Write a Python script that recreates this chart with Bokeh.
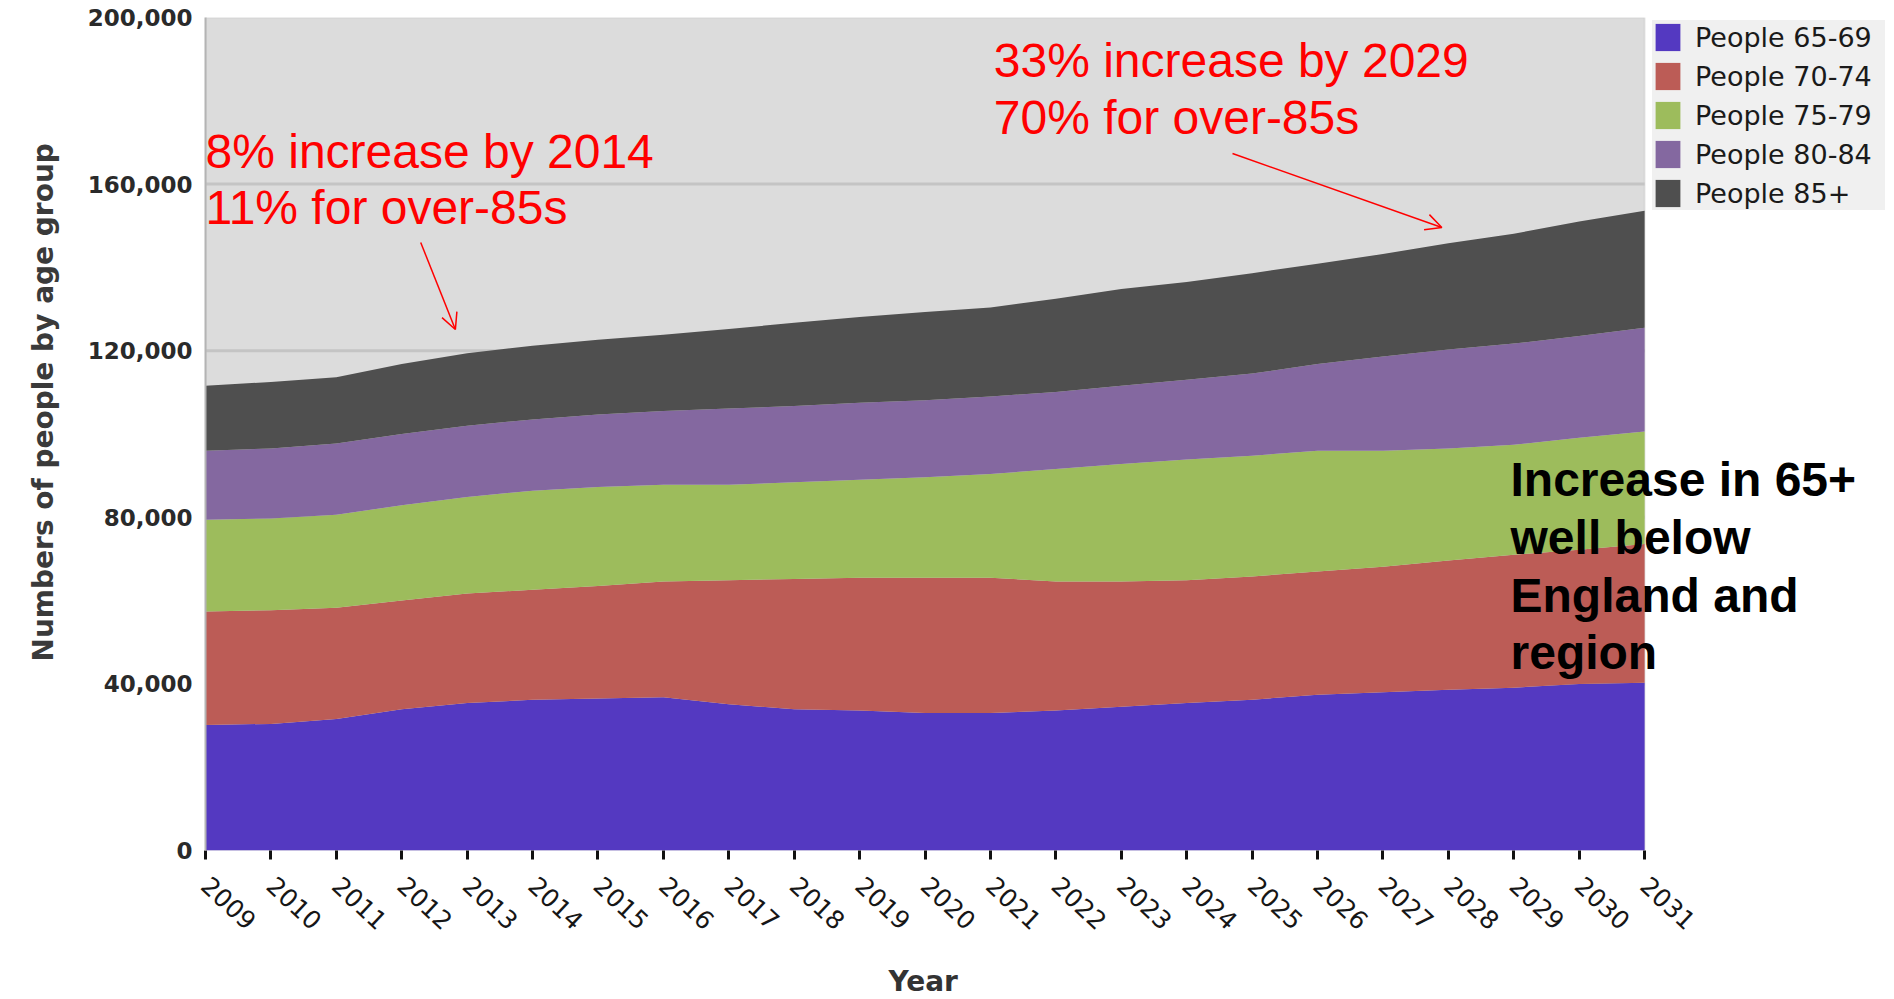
from bokeh.plotting import figure
from bokeh.models import (Legend, LegendItem, Label, Arrow, OpenHead, FixedTicker, Title,
                          NumeralTickFormatter, ColumnDataSource, Range1d, BoxAnnotation)
from bokeh.embed import file_html
from bokeh.resources import INLINE

# ---------------- data ----------------
years = list(range(2009, 2032))
tick_labels = [str(y) for y in years]
groups = ["People 65-69", "People 70-74", "People 75-79", "People 80-84", "People 85+"]

p65_69 = [30150, 30400, 31600, 33900, 35400, 36200, 36500, 36800, 35100, 33900, 33600, 33000,
          33000, 33600, 34500, 35400, 36200, 37400, 38000, 38600, 39100, 40000, 40300]
p70_74 = [27250, 27300, 26700, 26100, 26300, 26400, 27000, 27800, 29800, 31300, 31900, 32500,
          32500, 31000, 30100, 29500, 29600, 29600, 30100, 31000, 31900, 32200, 33300]
p75_79 = [22000, 22000, 22300, 22900, 23200, 23800, 23800, 23200, 22900, 23200, 23500, 24100,
          24900, 27000, 28200, 29000, 29000, 29000, 27900, 26900, 26400, 26900, 27000]
p80_84 = [16600, 16800, 17100, 17100, 17100, 17100, 17400, 17700, 18300, 18300, 18500, 18500,
          18600, 18500, 18800, 19100, 19700, 20800, 22600, 23800, 24300, 24400, 24900]
p85_plus = [15600, 16000, 15900, 16800, 17400, 17700, 17900, 18300, 19100, 20000, 20600, 21200,
            21400, 22400, 23200, 23500, 24100, 24100, 24600, 25500, 26400, 27500, 28100]

y_ticks = [0, 40000, 80000, 120000, 160000, 200000]

colors = ["#5439C1", "#BC5C56", "#9DBC5C", "#8468A0", "#4F4F4F"]

source = ColumnDataSource(dict(year=years, g1=p65_69, g2=p70_74, g3=p75_79, g4=p80_84, g5=p85_plus))

# ---------------- figure ----------------
# frame extends to the right beyond the last year so the legend/notes can sit there
X_END = 2034.82
p = figure(frame_width=1689, frame_height=833,
           x_range=Range1d(years[0], X_END), y_range=Range1d(y_ticks[0], y_ticks[-1]),
           output_backend="svg", toolbar_location=None,
           min_border_left=205, min_border_right=0, min_border_top=17, min_border_bottom=149,
           background_fill_color="white", border_fill_color="white")
p.outline_line_color = None

# plot-area background (only over the data years)
p.add_layout(BoxAnnotation(left=years[0], right=years[-1], bottom=y_ticks[0], top=y_ticks[-1],
                           fill_color="#DCDCDC", fill_alpha=1.0,
                           line_color="#B8B8B8", line_width=2, level="underlay"))

# horizontal grid lines limited to the data years
p.xgrid.visible = False
p.ygrid.visible = False
p.segment(x0=years[0], x1=years[-1], y0=y_ticks[1:-1], y1=y_ticks[1:-1],
          line_color="#C4C4C4", line_width=3)

renderers = p.varea_stack(stackers=["g1", "g2", "g3", "g4", "g5"], x="year",
                          color=colors, source=source)

# y axis
ya = p.yaxis[0]
ya.ticker = FixedTicker(ticks=y_ticks)
ya.formatter = NumeralTickFormatter(format="0,0")
ya.major_tick_out = 0
ya.major_tick_in = 0
ya.minor_tick_out = 0
ya.minor_tick_in = 0
ya.axis_line_color = "#B4B4B4"
ya.axis_line_width = 2
ya.major_label_text_font = "DejaVu Sans"
ya.major_label_text_font_style = "bold"
ya.major_label_text_font_size = "23px"
ya.major_label_text_color = "#2a2a2a"
ya.major_label_standoff = 13

# y title as a side title so it can be nudged along the axis
p.add_layout(Title(text="Numbers of people by age group", align="left", offset=189,
                   standoff=49, text_font="DejaVu Sans", text_font_style="bold",
                   text_font_size="28px", text_color="#3a3a3a"), "left")

# x axis
xa = p.xaxis[0]
xa.ticker = FixedTicker(ticks=years)
xa.major_label_overrides = {y: s for y, s in zip(years, tick_labels)}
xa.major_tick_in = 0
xa.major_tick_out = 9
xa.major_tick_line_width = 3
xa.major_tick_line_color = "#111111"
xa.minor_tick_out = 0
xa.minor_tick_in = 0
xa.axis_line_color = None
xa.major_label_orientation = -0.75
xa.major_label_text_font = "DejaVu Sans"
xa.major_label_text_font_size = "25px"
xa.major_label_text_color = "#161616"
xa.major_label_standoff = 22

# "Year" title centred under the data years (frame is wider than the data area)
p.add_layout(Title(text="Year", align="left", offset=683, standoff=43,
                   text_font="DejaVu Sans", text_font_style="bold",
                   text_font_size="28px", text_color="#333333"), "below")

# legend
legend = Legend(items=[LegendItem(label=g, renderers=[r]) for g, r in zip(groups, renderers)],
                location=(1447, 640), orientation="vertical",
                background_fill_color="#F0F0F0", background_fill_alpha=1.0,
                border_line_color=None, margin=0, padding=5, spacing=5,
                glyph_width=31, glyph_height=34, label_standoff=12,
                label_text_font="DejaVu Sans", label_text_font_size="27px",
                label_text_color="#1a1a1a", label_height=34, label_width=190)
p.add_layout(legend, "center")

# annotations
RED = "#FF0000"
FONT = "Liberation Sans"
red_lines = [
    ("8% increase by 2014", 2009.0, 163985),
    ("11% for over-85s", 2009.0, 150540),
    ("33% increase by 2029", 2021.05, 185834),
    ("70% for over-85s", 2021.05, 172149),
]
for txt, x, y in red_lines:
    p.add_layout(Label(x=x, y=y, y_offset=16, text=txt, text_color=RED, text_font=FONT,
                       text_font_size="48px", text_baseline="alphabetic", text_align="left"))

black_lines = [
    ("Increase in 65+", 2028.95, 85234),
    ("well below", 2028.95, 71309),
    ("England and", 2028.95, 57383),
    ("region", 2028.95, 43697),
]
for txt, x, y in black_lines:
    p.add_layout(Label(x=x, y=y, y_offset=16, text=txt, text_color="black", text_font=FONT,
                       text_font_style="bold", text_font_size="48px",
                       text_baseline="alphabetic", text_align="left"))

p.add_layout(Arrow(x_start=2012.29, y_start=145978, x_end=2012.82, y_end=125090,
                   line_color=RED, line_width=1.5,
                   end=OpenHead(size=16, line_color=RED, line_width=1.5)))
p.add_layout(Arrow(x_start=2024.70, y_start=167347, x_end=2027.90, y_end=149580,
                   line_color=RED, line_width=1.5,
                   end=OpenHead(size=16, line_color=RED, line_width=1.5)))

open("out.html", "w").write(file_html(p, INLINE))
